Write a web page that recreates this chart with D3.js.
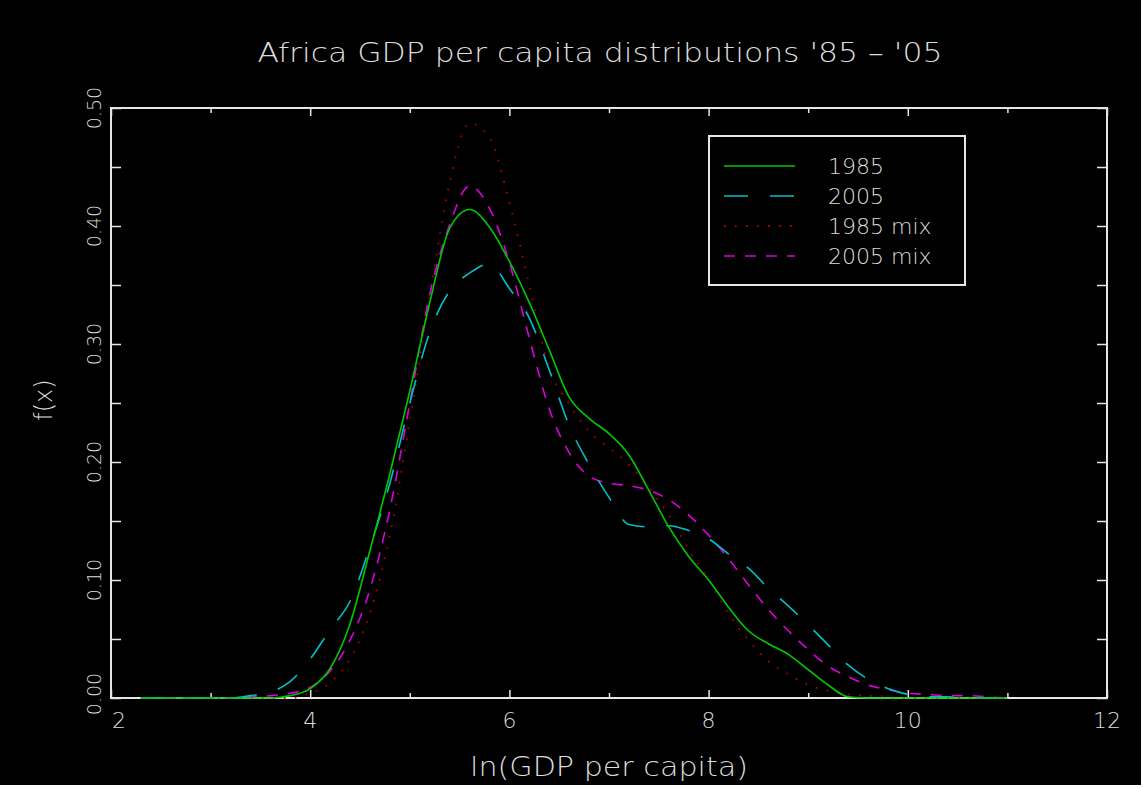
<!DOCTYPE html>
<html>
<head>
<meta charset="utf-8">
<script src="https://cdn.jsdelivr.net/npm/d3@7"></script>
<style>
    body { margin: 0; background: #ffffff; }
    #chart text { font-family: "DejaVu Sans", sans-serif; font-weight: 200; fill: #dcdcdc; }
</style>
</head>
<body>
<div id="chart"></div>
<script>
// grid of ln(GDP per capita) values where the densities were read
let xs = [2.3, 2.6, 3.0, 3.2, 3.4, 3.6, 3.8, 4.0, 4.2, 4.4, 4.6, 4.8, 5.0, 5.2, 5.4, 5.6, 5.8, 6.0,
    6.2, 6.4, 6.6, 6.8, 7.0, 7.2, 7.4, 7.6, 7.8, 8.0, 8.2, 8.4, 8.6, 8.8, 9.0, 9.2, 9.4, 9.6,
    9.8, 10.0, 10.2, 10.4, 10.6, 10.8, 11.0];

let dens1985 = [0, 0, 0, 0, 0, 0, 0.002, 0.008, 0.025, 0.063, 0.125, 0.19, 0.26, 0.335, 0.398, 0.414, 0.399, 0.37,
    0.335, 0.295, 0.255, 0.237, 0.224, 0.206, 0.176, 0.145, 0.12, 0.10, 0.077, 0.057, 0.046, 0.037, 0.024, 0.011, 0.001, 0,
    0, 0, 0, 0, 0, 0, 0];

let dens2005 = [0, 0, 0, 0, 0.002, 0.005, 0.014, 0.033, 0.058, 0.082, 0.128, 0.182, 0.25, 0.31, 0.345, 0.36, 0.368, 0.347,
    0.322, 0.278, 0.231, 0.198, 0.17, 0.147, 0.145, 0.146, 0.142, 0.135, 0.122, 0.11, 0.093, 0.078, 0.062, 0.045, 0.028, 0.016,
    0.008, 0.003, 0.001, 0.001, 0, 0, 0];

let dens1985mix = [0, 0, 0, 0, 0, 0, 0, 0.004, 0.013, 0.033, 0.072, 0.138, 0.235, 0.34, 0.437, 0.487, 0.475, 0.42,
    0.35, 0.28, 0.249, 0.226, 0.212, 0.198, 0.178, 0.155, 0.126, 0.10, 0.072, 0.049, 0.031, 0.02, 0.011, 0.006, 0.003, 0.002,
    0.001, 0, 0, 0, 0, 0, 0];

let dens2005mix = [0, 0, 0, 0, 0.001, 0.002, 0.004, 0.009, 0.023, 0.049, 0.092, 0.16, 0.25, 0.342, 0.401, 0.434, 0.415, 0.369,
    0.305, 0.245, 0.208, 0.188, 0.182, 0.18, 0.176, 0.168, 0.155, 0.138, 0.118, 0.096, 0.075, 0.057, 0.041, 0.027, 0.018, 0.011,
    0.007, 0.004, 0.003, 0.002, 0.002, 0.001, 0];

let seriesNames = ["1985", "2005", "1985 mix", "2005 mix"];
let xMajorTicks = [2, 4, 6, 8, 10, 12];
let xMinorTicks = [3, 5, 7, 9, 11];
let yMajorTicks = [0, 0.1, 0.2, 0.3, 0.4, 0.5];
let yMinorTicks = [0.05, 0.15, 0.25, 0.35, 0.45];

let W = 1146, H = 788;
let frame = {left: 111, right: 1107, top: 108, bottom: 698};

let svg = d3.select("#chart").append("svg")
    .attr("width", W)
    .attr("height", H)
    .style("display", "block");

// black canvas, thin light strip stays at the right and bottom edge
svg.append("rect")
    .attr("x", 0).attr("y", 0)
    .attr("width", 1141).attr("height", 785)
    .attr("fill", "#000");

let xScale = d3.scaleLinear().domain([2, 12]).range([frame.left, frame.right]);
let yScale = d3.scaleLinear().domain([0, 0.5]).range([frame.bottom, frame.top]);

let axisColor = "#e6e6e6";

function styleAxis(g) {
    g.select(".domain").remove();
    g.selectAll(".tick line").attr("stroke", axisColor).attr("stroke-width", 1.5);
    g.selectAll(".tick text").remove();
}

// ticks point into the plot on all four sides
svg.append("g").attr("transform", `translate(0,${frame.bottom})`)
    .call(d3.axisBottom(xScale).tickValues(xMajorTicks).tickSize(-8)).call(styleAxis);
svg.append("g").attr("transform", `translate(0,${frame.bottom})`)
    .call(d3.axisBottom(xScale).tickValues(xMinorTicks).tickSize(-5)).call(styleAxis);
svg.append("g").attr("transform", `translate(0,${frame.top})`)
    .call(d3.axisTop(xScale).tickValues(xMajorTicks).tickSize(-8)).call(styleAxis);
svg.append("g").attr("transform", `translate(0,${frame.top})`)
    .call(d3.axisTop(xScale).tickValues(xMinorTicks).tickSize(-5)).call(styleAxis);

let yAll = yMajorTicks.concat(yMinorTicks);
svg.append("g").attr("transform", `translate(${frame.left},0)`)
    .call(d3.axisLeft(yScale).tickValues(yAll).tickSize(-10)).call(styleAxis);
svg.append("g").attr("transform", `translate(${frame.right},0)`)
    .call(d3.axisRight(yScale).tickValues(yAll).tickSize(-10)).call(styleAxis);

// frame
svg.append("rect")
    .attr("x", frame.left).attr("y", frame.top)
    .attr("width", frame.right - frame.left)
    .attr("height", frame.bottom - frame.top)
    .attr("fill", "none")
    .attr("stroke", axisColor)
    .attr("stroke-width", 2);

// tick labels
svg.selectAll(".xlab").data(xMajorTicks).enter().append("text")
    .attr("class", "xlab")
    .attr("x", d => xScale(d) + (d === 2 ? 8 : 0))
    .attr("y", 728)
    .attr("text-anchor", "middle")
    .style("font-size", "22px")
    .text(d => d);

svg.selectAll(".ylab").data(yMajorTicks).enter().append("text")
    .attr("class", "ylab")
    .attr("transform", d => `translate(101,${yScale(d) - (d === 0 ? 4 : 0)}) rotate(-90)`)
    .attr("text-anchor", "middle")
    .style("font-size", "19px")
    .text(d => d3.format(".2f")(d));

// titles
svg.append("text")
    .attr("x", 600).attr("y", 62)
    .attr("text-anchor", "middle")
    .attr("textLength", 685)
    .attr("lengthAdjust", "spacingAndGlyphs")
    .style("font-size", "27px")
    .text("Africa GDP per capita distributions '85 \u2013 '05");

svg.append("text")
    .attr("x", 609).attr("y", 776)
    .attr("text-anchor", "middle")
    .attr("textLength", 278)
    .attr("lengthAdjust", "spacingAndGlyphs")
    .style("font-size", "26px")
    .text("ln(GDP per capita)");

svg.append("text")
    .attr("transform", "translate(52,400) rotate(-90)")
    .attr("text-anchor", "middle")
    .style("font-size", "24px")
    .text("f(x)");

// density curves
let series = [
    {name: seriesNames[0], values: dens1985, color: "#00c800", dash: null},
    {name: seriesNames[1], values: dens2005, color: "#00c0c8", dash: "24,22"},
    {name: seriesNames[2], values: dens1985mix, color: "#b40000", dash: "1.6,9.4"},
    {name: seriesNames[3], values: dens2005mix, color: "#dc00dc", dash: "11,10"}
];

let line = d3.line()
    .x(d => xScale(d[0]))
    .y(d => yScale(d[1]))
    .curve(d3.curveMonotoneX);

// draw order: mixes under, 2005 then 1985 on top
[series[2], series[3], series[1], series[0]].forEach(s => {
    svg.append("path")
        .datum(xs.map((x, i) => [x, s.values[i]]))
        .attr("d", line)
        .attr("fill", "none")
        .attr("stroke", s.color)
        .attr("stroke-width", s.dash === "1.6,9.4" ? 1.8 : 1.6)
        .attr("stroke-dasharray", s.dash);
});

// legend
let legend = svg.append("g");
legend.append("rect")
    .attr("x", 709).attr("y", 136)
    .attr("width", 256).attr("height", 149)
    .attr("fill", "#000")
    .attr("stroke", axisColor)
    .attr("stroke-width", 2);

let rowY = d3.scalePoint().domain(seriesNames).range([166, 256]);

series.forEach(s => {
    legend.append("line")
        .attr("x1", 724).attr("x2", 795)
        .attr("y1", rowY(s.name)).attr("y2", rowY(s.name))
        .attr("stroke", s.color)
        .attr("stroke-width", s.dash === "1.6,9.4" ? 1.8 : 1.6)
        .attr("stroke-dasharray", s.dash);
    legend.append("text")
        .attr("x", 828)
        .attr("y", rowY(s.name) + 8)
        .style("font-size", "22px")
        .text(s.name);
});
</script>
</body>
</html>
